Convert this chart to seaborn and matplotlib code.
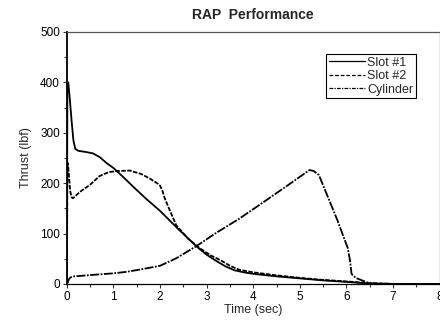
import matplotlib
matplotlib.use("Agg")
import matplotlib.pyplot as plt
import seaborn as sns
import pandas as pd

slot1_t = [0, 0.01, 0.03, 0.06, 0.1, 0.14, 0.18, 0.25, 0.4, 0.56, 0.7, 0.85, 1.0, 1.2, 1.4, 1.7,
           2.0, 2.4, 2.8, 3.0, 3.2, 3.4, 3.6, 3.8, 4.0, 4.5, 5.0, 5.5, 6.0, 6.3, 6.5, 7.0, 8.0]
slot1_f = [0, 380, 400, 370, 325, 285, 268, 264, 262, 259, 252, 240, 230, 213, 195, 169,
           145, 108, 73, 58, 46, 35, 27, 23, 20, 15, 11, 7, 4, 2, 0.5, 0, 0]

slot2_t = [0, 0.01, 0.02, 0.04, 0.07, 0.1, 0.13, 0.2, 0.3, 0.5, 0.7, 0.9, 1.1, 1.35, 1.6, 1.8,
           1.95, 2.0, 2.05, 2.1, 2.2, 2.35, 2.6, 2.85, 3.1, 3.3, 3.5, 3.7, 4.0, 4.5, 5.0, 5.5,
           6.0, 6.5, 7.0, 8.0]
slot2_f = [0, 200, 240, 220, 185, 172, 170, 176, 184, 197, 214, 222, 224, 225, 218, 208,
           199, 195, 185, 170, 148, 116, 90, 71, 56, 47, 36, 28, 23, 17, 12, 8,
           5, 1.5, 0, 0]

cyl_t = [0, 0.02, 0.04, 0.08, 0.15, 0.3, 0.56, 1.0, 1.28, 1.6, 2.0, 2.35, 2.78, 3.2, 3.71,
         4.2, 4.7, 5.1, 5.21, 5.3, 5.41, 5.57, 5.8, 6.03, 6.08, 6.11, 6.2, 6.35, 6.5, 7.0, 8.0]
cyl_f = [0, 3, 9, 13, 15, 16, 18, 21, 24, 29, 36, 51, 75, 101, 130,
         161, 193, 219, 226, 224, 216, 180, 128, 71, 45, 20, 12, 6.5, 1, 0, 0]

series_names = ["Slot #1", "Slot #2", "Cylinder"]

sns.set_style("ticks")
plt.rcParams["font.family"] = ["Liberation Sans", "DejaVu Sans"]

fig = plt.figure(figsize=(4.4, 3.23), dpi=100)
ax = fig.add_axes([0.152, 0.121, 0.847, 0.780])

plot_styles = ["-", (0, (2.5, 0.8)), (0, (5, 0.8, 1, 0.8))]
legend_styles = ["-", (0, (3, 1.5)), (0, (3, 1, 1, 1))]
data = [(slot1_t, slot1_f), (slot2_t, slot2_f), (cyl_t, cyl_f)]
for (t, f), name, ls in zip(data, series_names, plot_styles):
    df = pd.DataFrame({"t": t, "f": f})
    sns.lineplot(data=df, x="t", y="f", ax=ax, color="black", linestyle=ls,
                 linewidth=1.3, label=name, sort=False, estimator=None)

ax.set_xlim(0, 8)
ax.set_ylim(0, 500)
ax.set_xticks(range(0, 9))
ax.set_yticks(range(0, 501, 100))
ax.set_xticks([i + 0.5 for i in range(8)], minor=True)
ax.set_yticks([i * 100 + 50 for i in range(5)], minor=True)
ax.tick_params(axis="both", which="major", direction="out", length=3, width=0.8,
               labelsize=8.5, colors="#333333", labelcolor="black", pad=2)
ax.tick_params(axis="both", which="minor", direction="out", length=2.5, width=0.8,
               colors="#333333")
for s in ax.spines.values():
    s.set_color("#555555")
    s.set_linewidth(0.9)
ax.spines["left"].set_color("black")
ax.spines["left"].set_linewidth(1.3)
ax.spines["bottom"].set_color("black")

ax.set_xlabel("Time (sec)", fontsize=9, labelpad=1)
ax.set_ylabel("Thrust (lbf)", fontsize=9, labelpad=6)
ax.set_title("RAP  Performance", fontsize=10, fontweight="bold", pad=9)

leg = ax.legend(loc="upper right", bbox_to_anchor=(0.937, 0.912), fontsize=9,
                frameon=True, fancybox=False, edgecolor="black", framealpha=1,
                borderpad=0.2, labelspacing=0.12, handlelength=2.9, handletextpad=0.2,
                borderaxespad=0)
leg.get_frame().set_linewidth(0.8)
for line, ls in zip(leg.get_lines(), legend_styles):
    line.set_linewidth(0.9)
    line.set_linestyle(ls)

fig.savefig("out.png", dpi=100)
